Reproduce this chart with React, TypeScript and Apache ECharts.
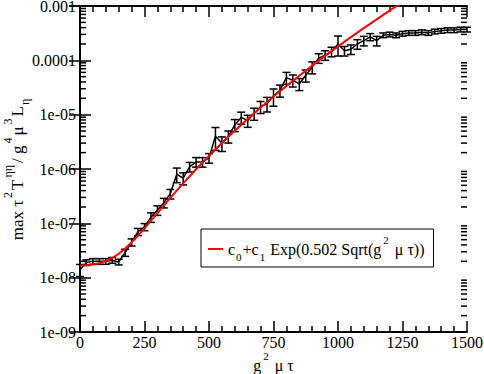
import React, { useEffect, useRef } from "react";
import * as echarts from "echarts";

// ---- data ----
const xValues = [
  0, 25, 50, 75, 100, 125, 150, 175, 200, 225, 250, 275, 300, 325, 350, 375, 400, 425, 450, 475,
  500, 525, 550, 575, 600, 625, 650, 675, 700, 725, 750, 775, 800, 825, 850, 875, 900, 925, 950, 975,
  1000, 1025, 1050, 1075, 1100, 1125, 1150, 1175, 1200, 1225, 1250, 1275, 1300, 1325, 1350, 1375, 1400, 1425, 1450, 1475, 1500,
];
const yValues = [
  1.4e-8, 1.9e-8, 2.0e-8, 2.0e-8, 2.0e-8, 2.1e-8, 1.95e-8, 2.9e-8, 4.5e-8, 7.0e-8,
  8.6e-8, 1.3e-7, 1.75e-7, 2.4e-7, 3.5e-7, 8.0e-7, 6.8e-7, 1.1e-6, 1.35e-6, 1.35e-6,
  1.6e-6, 4.0e-6, 3.0e-6, 4.0e-6, 6.5e-6, 8.9e-6, 7.8e-6, 1.05e-5, 1.4e-5, 1.6e-5,
  2.2e-5, 2.8e-5, 4.8e-5, 4.3e-5, 3.7e-5, 5.3e-5, 7.5e-5, 1.1e-4, 1.25e-4, 1.45e-4,
  2.0e-4, 1.5e-4, 1.6e-4, 2.0e-4, 2.3e-4, 2.7e-4, 2.3e-4, 2.9e-4, 3.0e-4, 2.9e-4,
  3.1e-4, 3.2e-4, 3.2e-4, 3.3e-4, 3.2e-4, 3.4e-4, 3.5e-4, 3.6e-4, 3.6e-4, 3.7e-4, 3.7e-4,
];
const yRelErr = [
  0.25, 0.12, 0.12, 0.12, 0.12, 0.12, 0.12, 0.15, 0.15, 0.15,
  0.15, 0.2, 0.2, 0.2, 0.2, 0.3, 0.25, 0.2, 0.2, 0.2,
  0.2, 0.45, 0.3, 0.25, 0.25, 0.25, 0.25, 0.25, 0.25, 0.3,
  0.35, 0.25, 0.25, 0.25, 0.25, 0.25, 0.25, 0.2, 0.2, 0.2,
  0.4, 0.2, 0.2, 0.2, 0.2, 0.15, 0.2, 0.1, 0.1, 0.1,
  0.1, 0.1, 0.1, 0.1, 0.1, 0.1, 0.1, 0.1, 0.1, 0.1, 0.1,
];
const fitX = [
  0, 25, 50, 75, 100, 125, 150, 175, 200, 225, 250, 275, 300, 325, 350, 375, 400, 450, 500, 550,
  600, 650, 700, 750, 800, 850, 900, 950, 1000, 1050, 1100, 1150, 1200, 1250,
];
const fitY = [
  1.67e-8, 1.7e-8, 1.75e-8, 1.85e-8, 2.02e-8, 2.3e-8, 2.75e-8, 3.43e-8, 4.45e-8, 5.95e-8,
  8.1e-8, 1.12e-7, 1.54e-7, 2.13e-7, 2.93e-7, 4.0e-7, 5.44e-7, 9.9e-7, 1.74e-6, 3.0e-6,
  5.06e-6, 8.33e-6, 1.35e-5, 2.15e-5, 3.38e-5, 5.22e-5, 8.0e-5, 1.21e-4, 1.805e-4, 2.67e-4,
  3.91e-4, 5.69e-4, 8.21e-4, 1.175e-3,
];
const yTickExponents = [-9, -8, -7, -6, -5, -4, -3];
const yTickLabels = ["1e-09", "1e-08", "1e-07", "1e-06", "1e-05", "0.0001", "0.001"];
const xTickLabels = ["0", "250", "500", "750", "1000", "1250", "1500"];
const fitName = "fit";

const FONT = "Liberation Serif";

export default function App() {
  const ref = useRef<HTMLDivElement>(null);
  useEffect(() => {
    if (!ref.current) return;
    document.body.style.margin = "0";
    const chart = echarts.init(ref.current, undefined, { renderer: "svg" });

    const lineData = xValues.map((x, i) => [x, yValues[i]]);
    const errData = xValues.map((x, i) => [x, yValues[i] * (1 - yRelErr[i]), yValues[i] * (1 + yRelErr[i])]);
    const fitData = fitX.map((x, i) => [x, fitY[i]]);
    const minorTicks: number[][] = [];
    for (let k = -9; k < -3; k++) for (let d = 2; d <= 9; d++) minorTicks.push([0, d * Math.pow(10, k)]);

    const mkRich = (fs: number, ss: number) => ({
      n: { fontFamily: FONT, fontSize: fs, color: "#000", lineHeight: fs + 6, verticalAlign: "middle" },
      sub: { fontFamily: FONT, fontSize: ss, color: "#000", lineHeight: fs + 6, verticalAlign: "bottom", padding: [0, 1, -2, 1] },
      sup: { fontFamily: FONT, fontSize: ss, color: "#000", lineHeight: fs + 6, verticalAlign: "top", padding: [-4, 2, 0, 2] },
      t: { fontFamily: FONT, fontSize: 16, color: "#000", lineHeight: 12 },
    });
    const rich = mkRich(16, 11);
    const richName = mkRich(17, 12);

    const baseX = {
      type: "value",
      min: 0,
      max: 1500,
      interval: 250,
      splitLine: { show: false },
      axisLine: { lineStyle: { color: "#000", width: 2 } },
      axisTick: { inside: true, length: 11, lineStyle: { color: "#000", width: 1.5 } },
      minorTick: { show: true, splitNumber: 5, length: 6, lineStyle: { color: "#000", width: 1.5 } },
    };
    const baseY = {
      type: "log",
      logBase: 10,
      min: 1e-9,
      max: 1e-3,
      interval: 1,
      splitLine: { show: false },
      axisLine: { lineStyle: { color: "#000", width: 2 } },
      axisTick: { inside: true, length: 11, lineStyle: { color: "#000", width: 1.5 } },
    };

    chart.setOption({
      animation: false,
      backgroundColor: "#fff",
      textStyle: { fontFamily: FONT, color: "#000" },
      grid: { left: 80, right: 17, top: 6, bottom: 42, containLabel: false, outerBoundsMode: "none" },
      legend: {
        data: [{ name: fitName, icon: "rect" }],
        left: 201,
        top: 229,
        width: 236,
        itemWidth: 15,
        itemHeight: 2,
        itemGap: 6,
        padding: [5, 9, 5, 7],
        borderColor: "#000",
        borderWidth: 1,
        backgroundColor: "#fff",
        selectedMode: false,
        formatter: () => "{n|c}{sub|0}{n|+c}{sub|1}{n| Exp(0.502 Sqrt(g}{sup|2}{n| μ τ))}",
        textStyle: { fontFamily: FONT, fontSize: 16, color: "#000", rich },
      },
      xAxis: [
        {
          ...baseX,
          position: "bottom",
          name: "{n|g}{sup|2}{n| μ τ}",
          nameLocation: "middle",
          nameGap: 22,
          nameMoveOverlap: false,
          nameTextStyle: { fontFamily: FONT, rich },
          axisLabel: {
            margin: 4,
            fontFamily: FONT,
            fontSize: 16,
            color: "#000",
            rich,
            formatter: (v: number) => "{t|" + (xTickLabels[Math.round(v / 250)] ?? "") + "}",
          },
        },
        { ...baseX, position: "top", axisLabel: { show: false } },
      ],
      yAxis: [
        {
          ...baseY,
          position: "left",
          name: "{n|max τ}{sup|2}{n|T}{sup|ηη}{n|/ g}{sup|4}{n|μ}{sup|3}{n|L}{sub|η}",
          nameLocation: "middle",
          nameRotate: 90,
          nameGap: 51,
          nameMoveOverlap: false,
          nameTextStyle: { fontFamily: FONT, rich: richName },
          axisLabel: {
            margin: 4,
            fontFamily: FONT,
            fontSize: 16,
            color: "#000",
            rich,
            formatter: (v: number) => {
              const e = Math.round(Math.log10(v));
              const i = yTickExponents.indexOf(e);
              return i >= 0 ? "{t|" + yTickLabels[i] + "}" : "";
            },
          },
        },
        { ...baseY, position: "right", axisLabel: { show: false } },
      ],
      series: [
        {
          type: "custom",
          name: "minorLogTicks",
          xAxisIndex: 0,
          yAxisIndex: 0,
          silent: true,
          data: minorTicks,
          encode: { x: 0, y: 1 },
          renderItem: (params: any, api: any) => {
            const p = api.coord([api.value(0), api.value(1)]);
            const cs = params.coordSys;
            const st = { stroke: "#000", lineWidth: 1.5 };
            return {
              type: "group",
              children: [
                { type: "line", shape: { x1: cs.x, y1: p[1], x2: cs.x + 6, y2: p[1] }, style: st },
                { type: "line", shape: { x1: cs.x + cs.width - 6, y1: p[1], x2: cs.x + cs.width, y2: p[1] }, style: st },
              ],
            };
          },
        },
        {
          type: "custom",
          name: "errors",
          xAxisIndex: 0,
          yAxisIndex: 0,
          silent: true,
          data: errData,
          encode: { x: 0, y: [1, 2] },
          renderItem: (params: any, api: any) => {
            const x = api.value(0);
            const lo = api.coord([x, api.value(1)]);
            const hi = api.coord([x, api.value(2)]);
            const w = 4;
            const st = { stroke: "#000", lineWidth: 1.5 };
            return {
              type: "group",
              children: [
                { type: "line", shape: { x1: lo[0], y1: lo[1], x2: hi[0], y2: hi[1] }, style: st },
                { type: "line", shape: { x1: lo[0] - w, y1: lo[1], x2: lo[0] + w, y2: lo[1] }, style: st },
                { type: "line", shape: { x1: hi[0] - w, y1: hi[1], x2: hi[0] + w, y2: hi[1] }, style: st },
              ],
            };
          },
        },
        {
          type: "line",
          name: "data",
          data: lineData,
          showSymbol: false,
          symbol: "none",
          lineStyle: { color: "#000", width: 1.5 },
          itemStyle: { color: "#000" },
        },
        {
          type: "line",
          name: fitName,
          data: fitData,
          showSymbol: false,
          symbol: "none",
          smooth: false,
          clip: true,
          lineStyle: { color: "#ff0000", width: 2 },
          itemStyle: { color: "#ff0000" },
        },
      ],
    });
    return () => chart.dispose();
  }, []);
  return <div ref={ref} style={{ width: 484, height: 374 }} />;
}
